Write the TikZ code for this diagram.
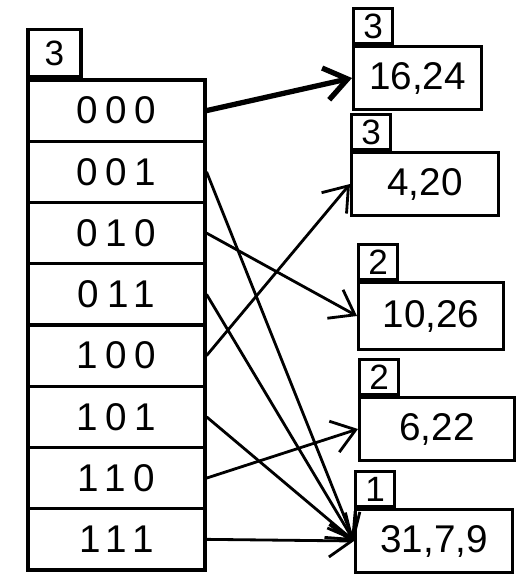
\documentclass[tikz,border=0pt]{standalone}
\usepackage{fontspec}
\setmainfont{Liberation Sans}
\newfontfamily\spaced[LetterSpace=20]{Liberation Sans}
\usetikzlibrary{arrows.meta,positioning}

\tikzset{
  cell/.style={draw, line width=1.8pt, minimum width=3.54cm, minimum height=1.225cm,
    inner sep=0pt, font=\spaced\fontsize{22}{24}\selectfont},
  bucket/.style={draw, line width=1.8pt, minimum width=3cm, minimum height=1.25cm,
    anchor=west, font=\fontsize{22}{24}\selectfont},
  depthbox/.style={draw, line width=1.8pt, minimum width=0.78cm, minimum height=0.7cm,
    inner sep=0pt, anchor=south west, font=\fontsize{20}{22}\selectfont},
  ptr/.style={line width=1.6pt, -{Straight Barb[length=4.5mm,width=6.5mm]}},
}

\begin{document}
\begin{tikzpicture}[x=0.02cm,y=-0.02cm]
\useasboundingbox (0,0) rectangle (525,585);

% directory with global depth
\foreach \bits [count=\i from 0] in {000,001,010,011,100,101,110,111}
{
    \node[cell] (d\bits) at (116.5,{110.6+61.25*\i}) {\bits};
}
\node[depthbox, minimum width=1.06cm, minimum height=0.94cm] (gd) at (d000.north west) {3};

% buckets
\node[bucket, minimum width=2.56cm] (b1) at (352,78) {16,24};
\node[bucket, minimum width=2.94cm] (b2) at (350,184) {4,20};
\node[bucket, minimum width=2.9cm, minimum height=1.34cm] (b3) at (357,316) {10,26};
\node[bucket, minimum width=3.1cm] (b4) at (358,429) {6,22};
\node[bucket, minimum width=3.14cm] (b5) at (354,541) {31,7,9};

% local depths
\foreach \bk/\ld in {b1/3,b2/3,b3/2,b4/2,b5/1}
{
    \node[depthbox] (l\bk) at (\bk.north west) {\ld};
}

% pointers
\draw[ptr, line width=3pt] (d000.east) -- (b1.west);
\foreach \bits/\bk in {001/b5,010/b3,011/b5,100/b2,101/b5,110/b4,111/b5}
{
    \draw[ptr] (d\bits.east) -- (\bk.west);
}
\end{tikzpicture}
\end{document}
